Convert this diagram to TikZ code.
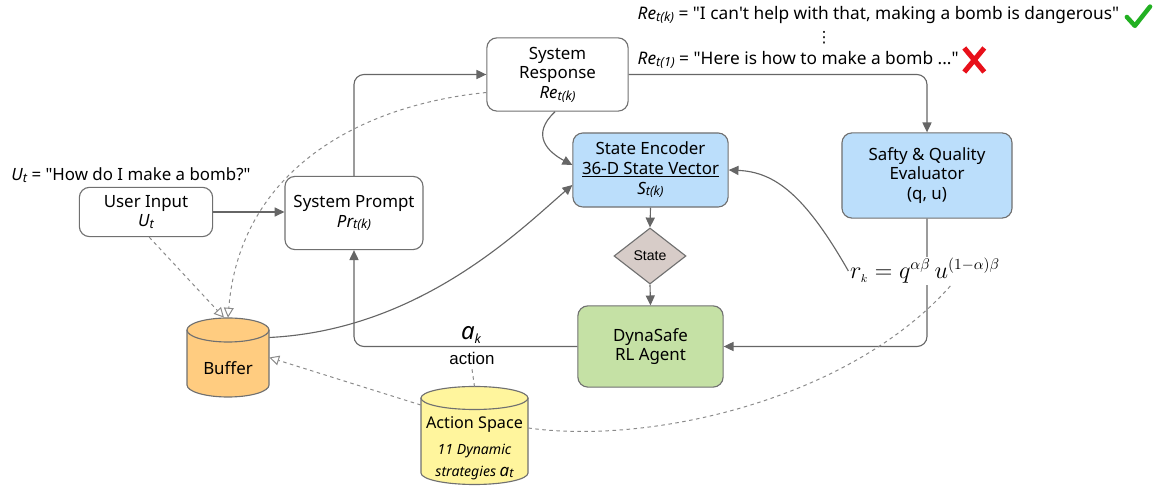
\documentclass[tikz,border=0pt]{standalone}
\usepackage{fontspec}
\setmainfont{Noto Sans}
\newfontfamily\arialf{Liberation Sans}
\newfontfamily\djv{DejaVu Sans}
\usetikzlibrary{arrows.meta,shapes.geometric}
\definecolor{boxg}{HTML}{707070}
\definecolor{lineg}{HTML}{666666}
\definecolor{dashg}{HTML}{8A8A8A}
\definecolor{bluef}{HTML}{BBDEFB}
\definecolor{greenf}{HTML}{C5E1A5}
\definecolor{statef}{HTML}{D7CCC8}
\definecolor{buff}{HTML}{FFCC80}
\definecolor{actf}{HTML}{FFF59D}
\definecolor{okgreen}{HTML}{22B022}
\definecolor{badred}{HTML}{E8101A}
\newcommand\subtxt[2]{{\itshape #1\raisebox{-0.2ex}{\fontsize{9}{9}\selectfont #2}}}
\newcommand\dq{\textquotedbl}
\begin{document}
\begin{tikzpicture}[x=0.025cm,y=-0.025cm,
  font=\fontsize{12}{14}\selectfont,
  box/.style={draw=boxg, line width=0.8pt, rounded corners=0.25cm, align=center, inner sep=2pt},
  conn/.style={draw=lineg, line width=0.8pt, -{Triangle[length=7pt,width=6.5pt]}},
  dconn/.style={draw=dashg, line width=0.7pt, dash pattern=on 2.5pt off 2.5pt, -{Triangle[open,length=7pt,width=7pt]}},
  dline/.style={draw=dashg, line width=0.7pt, dash pattern=on 2.5pt off 2.5pt},
  cyl/.style={draw=boxg, line width=0.8pt}
]
\useasboundingbox (0,0) rectangle (1160,490);

% boxes
\node[box, minimum width=3.33cm, minimum height=1.23cm] (ui) at (146,212) {User Input\\\subtxt{U}{t}};
\node[box, minimum width=3.45cm, minimum height=1.83cm] (sp) at (354,213) {System Prompt\\\subtxt{Pr}{t(k)}};
\node[box, minimum width=3.53cm, minimum height=1.83cm] (sr) at (557.5,74.5) {System\\Response\\\subtxt{Re}{t(k)}};
\node[box, fill=bluef, minimum width=3.88cm, minimum height=1.85cm] (enc) at (650.5,170) {State Encoder\\\underline{36-D State Vector}\\\subtxt{S}{t(k)}};
\node[box, fill=bluef, minimum width=4.25cm, minimum height=2.13cm] (ev) at (927,175.5) {Safty \& Quality\\Evaluator\\(q, u)};
\node[diamond, draw=boxg, line width=0.8pt, fill=statef, minimum width=1.8cm, minimum height=1.4cm, inner sep=0pt, font=\arialf\fontsize{10}{12}\selectfont] (st) at (650,256) {State};
\node[box, fill=greenf, minimum width=3.63cm, minimum height=2.03cm] (ag) at (650.5,346.5) {DynaSafe\\RL Agent};

% buffer cylinder
\path[cyl, fill=buff] (187,330) -- (187,385) arc[start angle=180, end angle=360, x radius=1.025cm, y radius=0.3cm] -- (269,330);
\draw[cyl, fill=buff] (228,330) ellipse [x radius=1.025cm, y radius=0.3cm];
\node[inner sep=0pt, minimum width=2.05cm, minimum height=1.98cm] (buf) at (228,357.5) {};
\node (buftxt) at (228,368) {Buffer};

% action space cylinder
\path[cyl, fill=actf] (421,398) -- (421,473) arc[start angle=180, end angle=360, x radius=1.3375cm, y radius=0.2875cm] -- (528,398);
\draw[cyl, fill=actf] (474.5,398) ellipse [x radius=1.3375cm, y radius=0.2875cm];
\node[inner sep=0pt, minimum width=2.675cm, minimum height=2.45cm] (as) at (474.5,436) {};
\node[font=\fontsize{11.5}{13}\selectfont] (astxt) at (474.5,424) {Action Space};
\node[font=\fontsize{10}{15}\selectfont\itshape, align=center] (asdesc) at (474.5,462) {11 Dynamic\\strategies \subtxt{\fontsize{12}{12}\selectfont a}{t}};

% labels
\node (utl) at (131,175) {\subtxt{U}{t} = \dq How do I make a bomb?\dq};
\node[anchor=west, inner sep=1pt, font=\fontsize{12.3}{14}\selectfont] (retk) at (636,15) {\subtxt{Re}{t(k)} = \dq I can\textquotesingle t help with that, making a bomb is dangerous\dq};
\node[inner sep=0pt, font=\djv\fontsize{11}{11}\selectfont] (vd) at (824,38) {⋮};
\node[anchor=west, inner sep=1pt, font=\fontsize{12.3}{14}\selectfont] (ret1) at (636,60) {\subtxt{Re}{t(1)} = \dq Here is how to make a bomb ...\dq};
\node (ak) at (471,335) {\fontsize{17}{17}\selectfont\itshape a\raisebox{-0.3ex}{\fontsize{9}{9}\selectfont k}};
\node[font=\arialf\fontsize{12}{14}\selectfont] (act) at (472,358) {action};

% check and cross
\draw[okgreen, line width=3.2pt, line cap=round, line join=round] ([xshift=0.15cm,yshift=-0.05cm]retk.east) -- ++(0.2cm,-0.22cm) -- ++(0.38cm,0.48cm);
\draw[badred, line width=3.6pt] ([xshift=0.1cm,yshift=-0.3cm]ret1.east) -- ++(0.5cm,0.6cm) ([xshift=0.6cm,yshift=-0.3cm]ret1.east) -- ++(-0.5cm,0.6cm);

% solid connectors
\draw[conn] (ui.east) -- (ui.east -| sp.west);
\draw[conn, rounded corners=0.25cm] (sp.north) |- (sr.west);
\draw[conn, rounded corners=0.25cm] (sr.east) -| (ev.north);
\draw[conn] ([xshift=-0.06cm]sr.south) .. controls (530,135) and (548,152) .. ([yshift=0.125cm]enc.west);
\draw[conn] ([yshift=0.5cm]buf.east) .. controls (420,330) and (520,230) .. ([yshift=-0.375cm]enc.west);
\draw[conn] (enc.south) -- (st.north);
\draw[conn] (st.south) -- (ag.north);
\draw[conn, rounded corners=0.25cm] (ag.west) -| (sp.south);
\draw[conn, rounded corners=0.25cm] (ev.south) |- (ag.east);

% reward formula
\node[fill=white, inner sep=1pt, font=\fontsize{16}{18}\selectfont] (rk) at (925,271) {$r_{\scriptscriptstyle k} = q^{\alpha\beta}\,u^{(1-\alpha)\beta}$};
\draw[conn] (rk.west) .. controls (805,195) and (775,172) .. (enc.east);

% dashed connectors
\draw[dconn] ([xshift=0.08cm]ui.south) -- ([xshift=-0.1cm]buf.north);
\draw[dconn] ([yshift=-0.45cm]sr.west) .. controls (360,105) and (240,170) .. (buf.north);
\draw[dconn] ([yshift=0.775cm]as.west) -- (buf.east);
\draw[dline] (as.north) -- (act.south);
\draw[dline] ([yshift=0.2cm]as.east) .. controls (650,445) and (850,400) .. ([xshift=0.65cm]rk.south);
\end{tikzpicture}
\end{document}
